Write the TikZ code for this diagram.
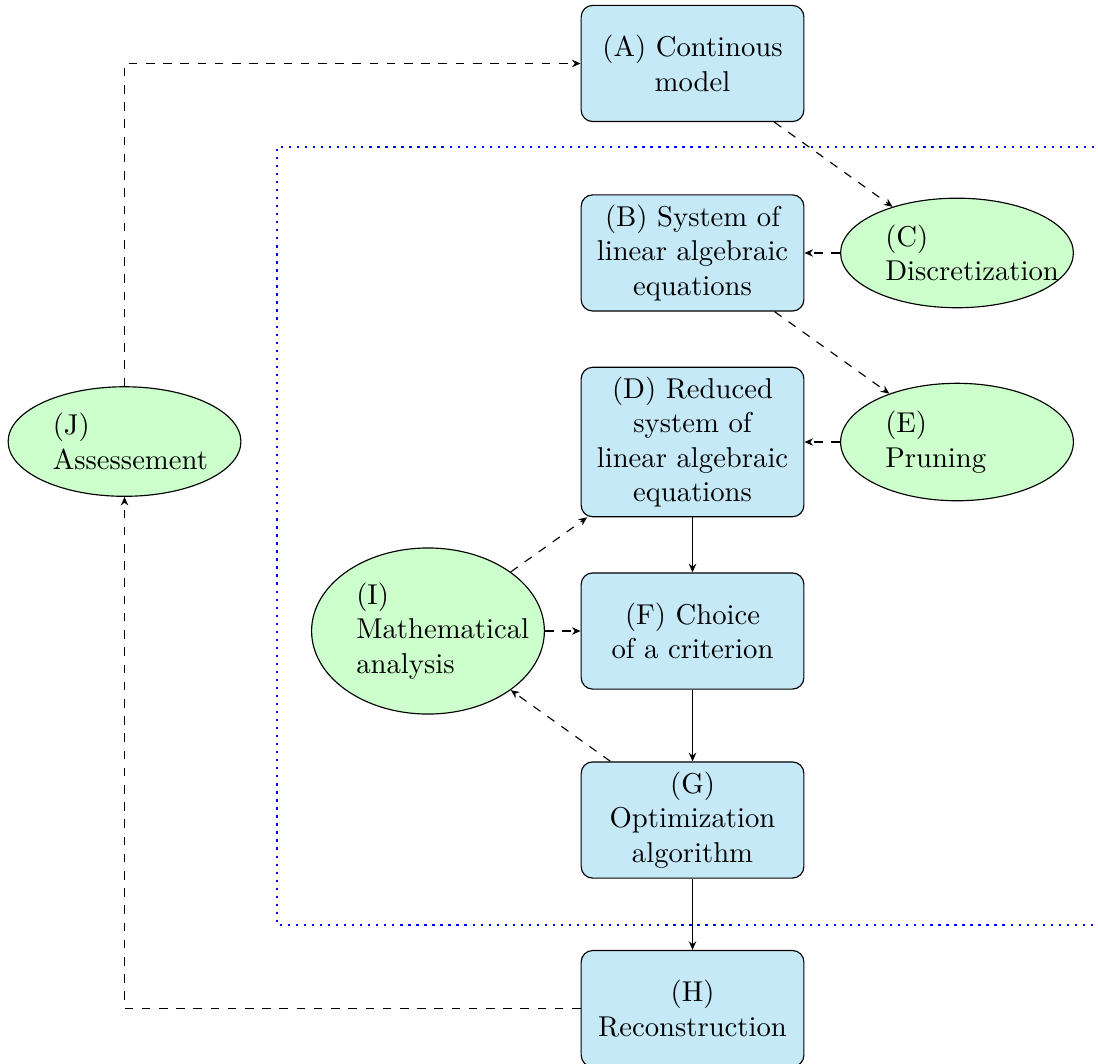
\documentclass[tikz,border=0pt]{standalone}
\usetikzlibrary{shapes.geometric,arrows.meta}
\definecolor{BoxBlue}{RGB}{198,233,248}
\begin{document}
\begin{tikzpicture}[>={Stealth[length=3pt,width=2.6pt]}]
  \tikzset{BlockStyle/.style = {rectangle,
                                draw,
                                fill           = BoxBlue,
                                text width     = 7.1em,
                                align          = center,
                                rounded corners,
                                minimum height = 4.05em}}
  \tikzset{CloudStyle/.style = {ellipse,
                                draw,
                                fill           = green!20,
                                inner sep      = 3.7pt,
                                text width     = 5em}}
  \tikzset{EdgeStyleSolid/.style  = {->}}
  \tikzset{EdgeStyleDashed/.style = {->, dashed}}
  \tikzset{FrameStyle/.style      = {blue, thick, dotted}}

\useasboundingbox (0,0) rectangle (13.456,-13.039);

% frame round the discrete part
\coordinate (F1) at (14,-1.801);
\coordinate (F2) at (3.395,-11.336);
\coordinate (F3) at (14,-11.336);
\draw[FrameStyle] (F1) -| (F2) -- (F3);

\node[BlockStyle] (A) at (8.487,-0.778)  {(A) Continous\\model};
\node[BlockStyle] (B) at (8.487,-3.100)  {(B) System of\\linear algebraic\\equations};
\node[BlockStyle] (D) at (8.487,-5.417)  {(D) Reduced\\system of\\linear algebraic\\equations};
\node[BlockStyle] (F) at (8.487,-7.733)  {(F) Choice\\of a criterion};
\node[BlockStyle] (G) at (8.487,-10.049) {(G)\\Optimization\\algorithm};
\node[BlockStyle] (H) at (8.487,-12.36)  {(H)\\Reconstruction};

\node[CloudStyle] (C) at (11.728,-3.100) {(C)\\Discretization};
\node[CloudStyle] (E) at (11.728,-5.417) {(E)\\Pruning};
\node[CloudStyle] (I) at (5.245,-7.733)  {(I)\\Mathematical\\analysis};
\node[CloudStyle] (J) at (1.526,-5.411)  {(J)\\Assessement};

\draw[EdgeStyleDashed] (A) -- (C);
\draw[EdgeStyleDashed] (C) -- (B);
\draw[EdgeStyleDashed] (B) -- (E);
\draw[EdgeStyleDashed] (E) -- (D);
\draw[EdgeStyleSolid]  (D) -- (F);
\draw[EdgeStyleSolid]  (F) -- (G);
\draw[EdgeStyleSolid]  (G) -- (H);
\draw[EdgeStyleDashed] (I) -- (D);
\draw[EdgeStyleDashed] (I) -- (F);
\draw[EdgeStyleDashed] (G) -- (I);
\draw[EdgeStyleDashed] (H.west) -| (J.south);
\draw[EdgeStyleDashed] (J.north) |- (A.west);

\end{tikzpicture}
\end{document}
